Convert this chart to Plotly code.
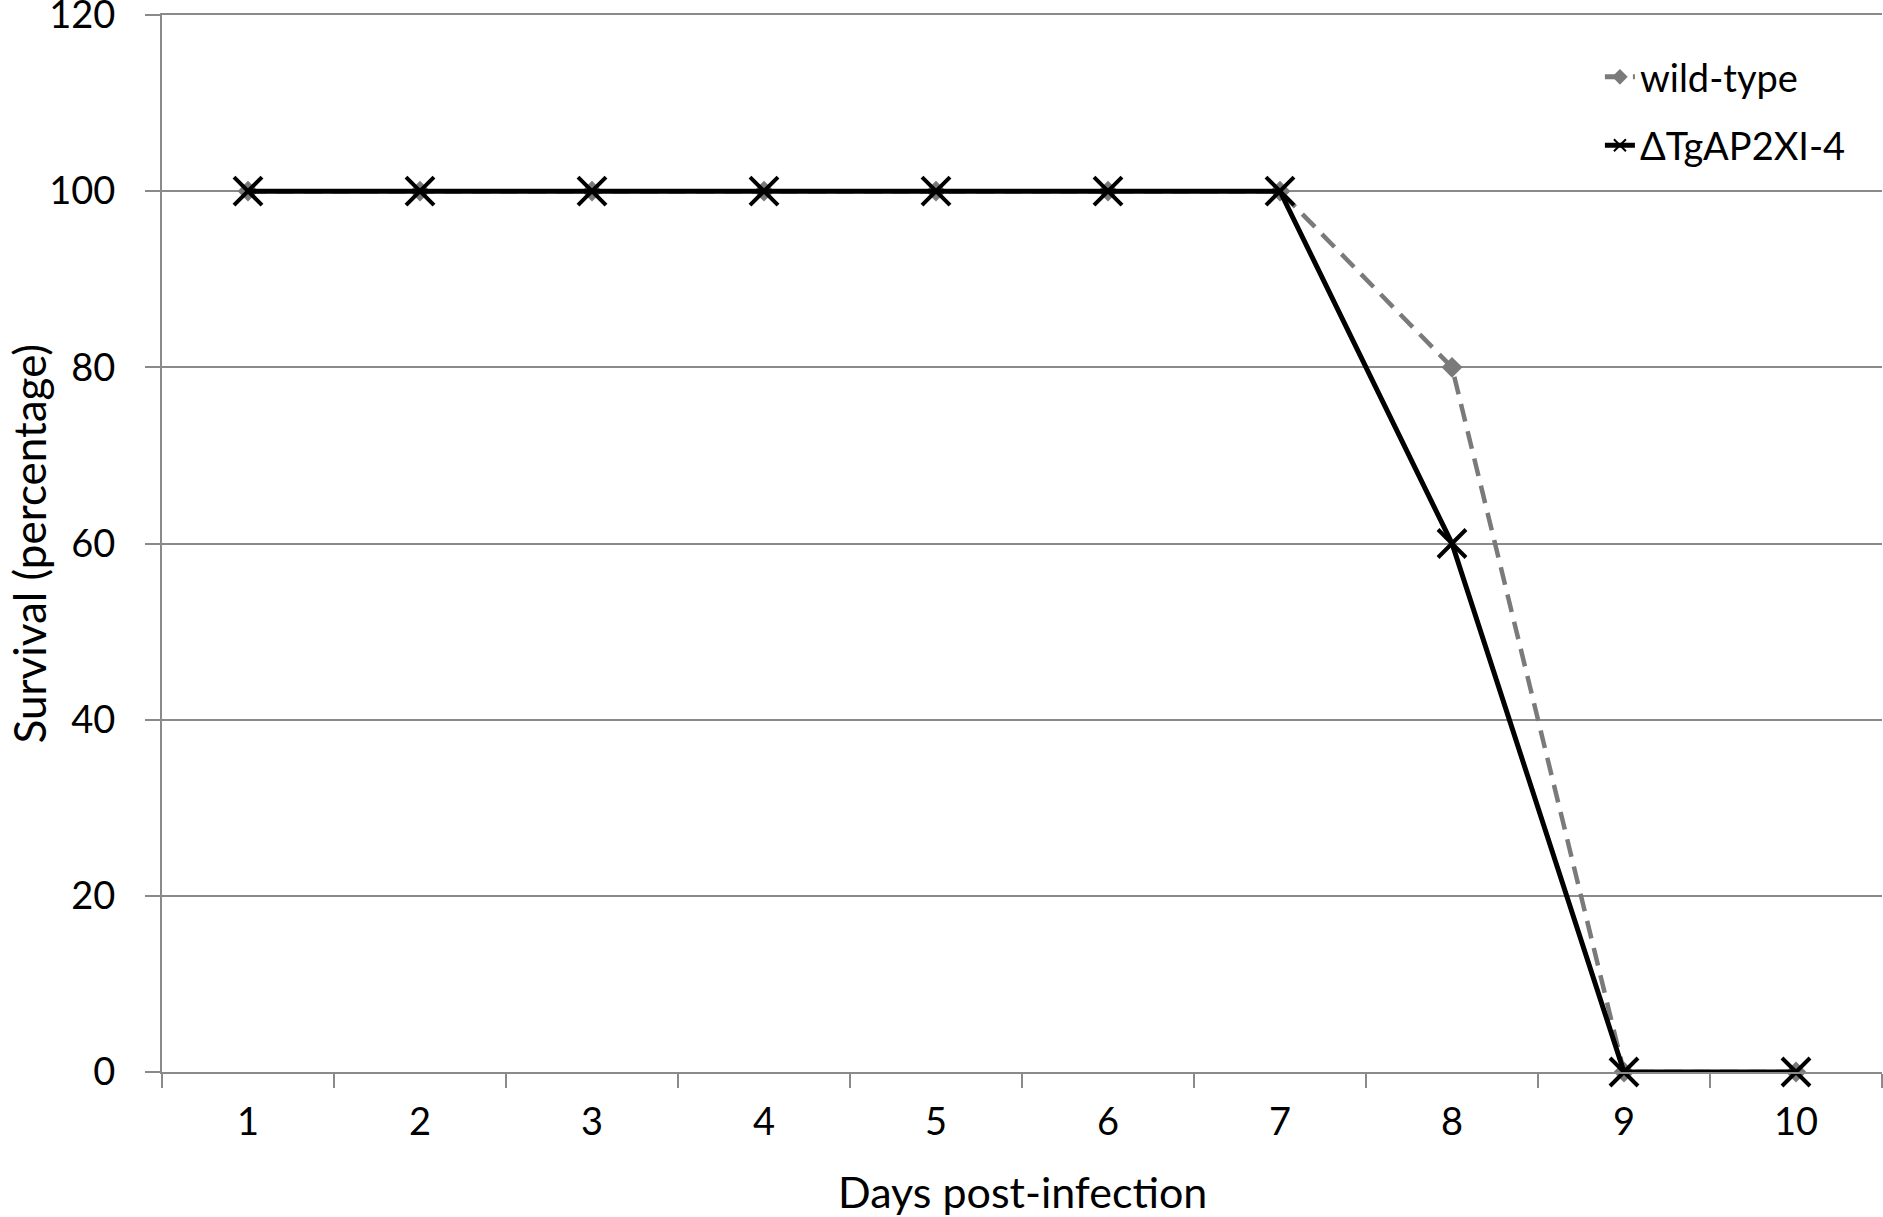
import plotly.graph_objects as go

days = ["1", "2", "3", "4", "5", "6", "7", "8", "9", "10"]
wild_type = [100, 100, 100, 100, 100, 100, 100, 80, 0, 0]
knockout = [100, 100, 100, 100, 100, 100, 100, 60, 0, 0]
y_ticks = [0, 20, 40, 60, 80, 100, 120]
x_title = "Days post-infection"
y_title = "Survival (percentage)"

FONT = "Lato"
GRID = "#8a8a8a"

fig = go.Figure()
fig.add_trace(go.Scatter(
    x=days, y=wild_type, name="wild-type", mode="lines+markers",
    line=dict(color="#7a7a7a", width=4.5, dash="18px,10px"),
    marker=dict(symbol="diamond", size=16, color="#7a7a7a"),
    legendgroup="a", cliponaxis=False,
))
fig.add_trace(go.Scatter(
    x=days, y=knockout, name="ΔTgAP2XI-4", mode="lines+markers",
    line=dict(color="#000000", width=5),
    marker=dict(symbol="x-thin", size=28, line=dict(color="#000000", width=4)),
    legendgroup="b", cliponaxis=False,
))

fig.update_layout(
    width=1883, height=1217,
    margin=dict(l=162, r=1, t=15, b=145, autoexpand=False),
    paper_bgcolor="white", plot_bgcolor="white",
    font=dict(family=FONT, size=38, color="#000000"),
    showlegend=True,
    legend=dict(
        x=0.836, xanchor="left", y=0.971, yanchor="top",
        bgcolor="rgba(0,0,0,0)", font=dict(size=38),
        traceorder="grouped", tracegroupgap=16,
        itemsizing="constant",
    ),
    xaxis=dict(
        type="category", range=[-0.5, 9.5], automargin=False,
        tickson="boundaries", ticks="outside", ticklen=14, tickwidth=2, tickcolor=GRID,
        showline=True, linecolor=GRID, linewidth=2, showgrid=False, mirror=True,
        ticklabelstandoff=15, tickfont=dict(size=38),
    ),
    yaxis=dict(
        range=[0, 120], tickvals=y_ticks, automargin=False,
        ticks="outside", ticklen=15, tickwidth=2, tickcolor=GRID,
        showline=True, linecolor=GRID, linewidth=2,
        showgrid=True, gridcolor=GRID, gridwidth=2,
        zeroline=False, ticklabelstandoff=22, tickfont=dict(size=38),
        ticklabeloverflow="allow",
    ),
    annotations=[
        dict(text=x_title, xref="paper", yref="paper", x=0.5, y=0,
             xanchor="center", yanchor="bottom", yshift=-147, showarrow=False,
             font=dict(size=43)),
        dict(text=y_title, xref="paper", yref="paper", x=0, y=0.5,
             xanchor="left", yanchor="middle", xshift=-162, textangle=-90,
             showarrow=False, font=dict(size=44)),
    ],
)

fig.write_html("out.html", config={"displayModeBar": False},
               post_script="document.body.style.margin='0';")
